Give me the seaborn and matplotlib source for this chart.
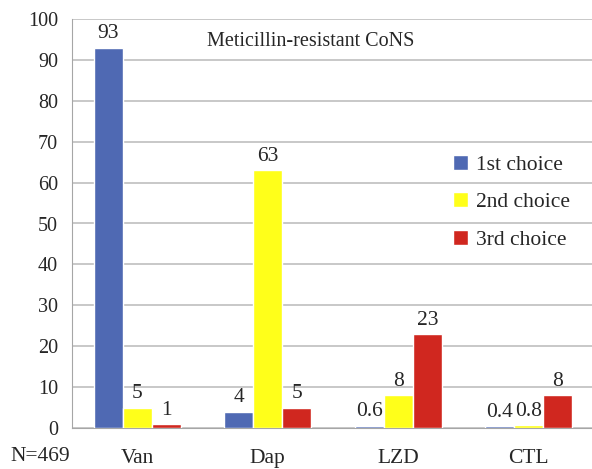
import pandas as pd
import seaborn as sns
import matplotlib.pyplot as plt

# dados
drogas = ['Van', 'Dap', 'LZD', 'CTL']
escolhas = ['1st choice', '2nd choice', '3rd choice']
primeira = [93, 4, 0.6, 0.4]
segunda = [5, 63, 8, 0.8]
terceira = [1, 5, 23, 8]
cores = ['#4F69B3', '#FFFF1A', '#D0271F']

df = pd.DataFrame({
    'droga': drogas * 3,
    'escolha': [escolhas[0]] * 4 + [escolhas[1]] * 4 + [escolhas[2]] * 4,
    'valor': primeira + segunda + terceira,
})

sns.set_style('white')
plt.rcParams['font.family'] = ['Liberation Serif', 'DejaVu Serif']

fig = plt.figure(figsize=(5.92, 4.69), dpi=100)
ax = fig.add_axes([72 / 592, 41 / 469, 522 / 592, 409 / 469])

sns.barplot(data=df, x='droga', y='valor', hue='escolha', palette=cores,
            width=0.67, saturation=1, ax=ax, zorder=3)

# rótulos dos valores
for cont in ax.containers:
    ax.bar_label(cont, labels=['%g' % b.get_height() for b in cont],
                 padding=3, fontsize=15.5)

ax.set_xlim(-0.5, 3.5)
ax.set_ylim(0, 100)
ax.set_yticks(range(0, 101, 10))
ax.set_xlabel('')
ax.set_ylabel('')

# ticks separando categorias
ax.set_xticks([-0.5, 0.5, 1.5, 2.5, 3.5])
ax.set_xticklabels([])
ax.set_xticks(range(4), minor=True)
ax.set_xticklabels(drogas, minor=True, fontsize=15.5)
ax.tick_params(axis='x', which='major', length=8, color='#A6A6A6', direction='out')
ax.tick_params(axis='x', which='minor', length=0, pad=15)
ax.tick_params(axis='y', length=8, color='#A6A6A6', labelsize=14.5, pad=2, direction='out')

ax.grid(axis='y', color='#BFBFBF', linewidth=1.2, zorder=0)
ax.set_axisbelow(True)
for s in ['top', 'right']:
    ax.spines[s].set_visible(False)
for s in ['left', 'bottom']:
    ax.spines[s].set_color('#A6A6A6')

ax.text(1.33, 94.5, 'Meticillin-resistant CoNS', ha='center', va='center', fontsize=14.5)
fig.text(10 / 592, 13 / 469, 'N=469', ha='left', va='center', fontsize=15.5)

ax.legend(frameon=False, loc='upper left', bbox_to_anchor=(453 / 592, 314 / 469),
          bbox_transform=fig.transFigure, fontsize=15.5, handlelength=0.7,
          handleheight=0.7, handletextpad=0.35, labelspacing=0.8,
          borderpad=0, borderaxespad=0)

plt.savefig('out.png', dpi=100)
